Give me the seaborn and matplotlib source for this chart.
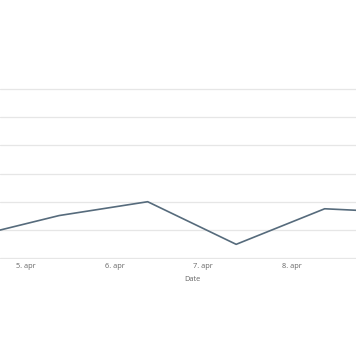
import matplotlib
matplotlib.use("Agg")
import matplotlib.pyplot as plt
import seaborn as sns
import pandas as pd

dates = ["2024-04-04 09:00", "2024-04-05 09:00", "2024-04-06 09:00",
         "2024-04-07 09:00", "2024-04-08 09:00", "2024-04-09 09:00"]
values = [0.74, 1.51, 2.0, 0.49, 1.75, 1.6]
tick_dates = ["2024-04-05", "2024-04-06", "2024-04-07", "2024-04-08"]
tick_labels = ["5. apr", "6. apr", "7. apr", "8. apr"]
x_label = "Date"

df = pd.DataFrame({"Date": pd.to_datetime(dates), "Value": values})

sns.set_theme(style="white")
plt.rcParams["font.family"] = ["Open Sans", "DejaVu Sans"]

fig = plt.figure(figsize=(3.56, 3.64), dpi=100)
ax = fig.add_axes([0.0, (364 - 259) / 364, 1.0, (259 - 88) / 364])

sns.lineplot(data=df, x="Date", y="Value", ax=ax, color="#566b7c", linewidth=1.2)

ax.set_xlim(pd.Timestamp("2024-04-04 16:57"), pd.Timestamp("2024-04-08 17:30"))
ax.set_ylim(-0.03, 6.03)
ax.set_yticks(range(0, 7))
ax.set_yticklabels([])
ax.tick_params(axis="y", length=0)
ax.yaxis.grid(True, color="#e6e6e6", linewidth=0.9)
ax.set_axisbelow(True)
for s in ax.spines.values():
    s.set_visible(False)

ax.set_xticks(pd.to_datetime(tick_dates))
ax.set_xticklabels(tick_labels, fontsize=5.3, color="#666666")
ax.tick_params(axis="x", length=0, pad=3)
ax.set_xlabel(x_label, fontsize=5.3, color="#666666")
ax.xaxis.set_label_coords(192 / 356, -(276 - 259) / 171)
ax.set_ylabel("")

fig.savefig("out.png", dpi=100)
